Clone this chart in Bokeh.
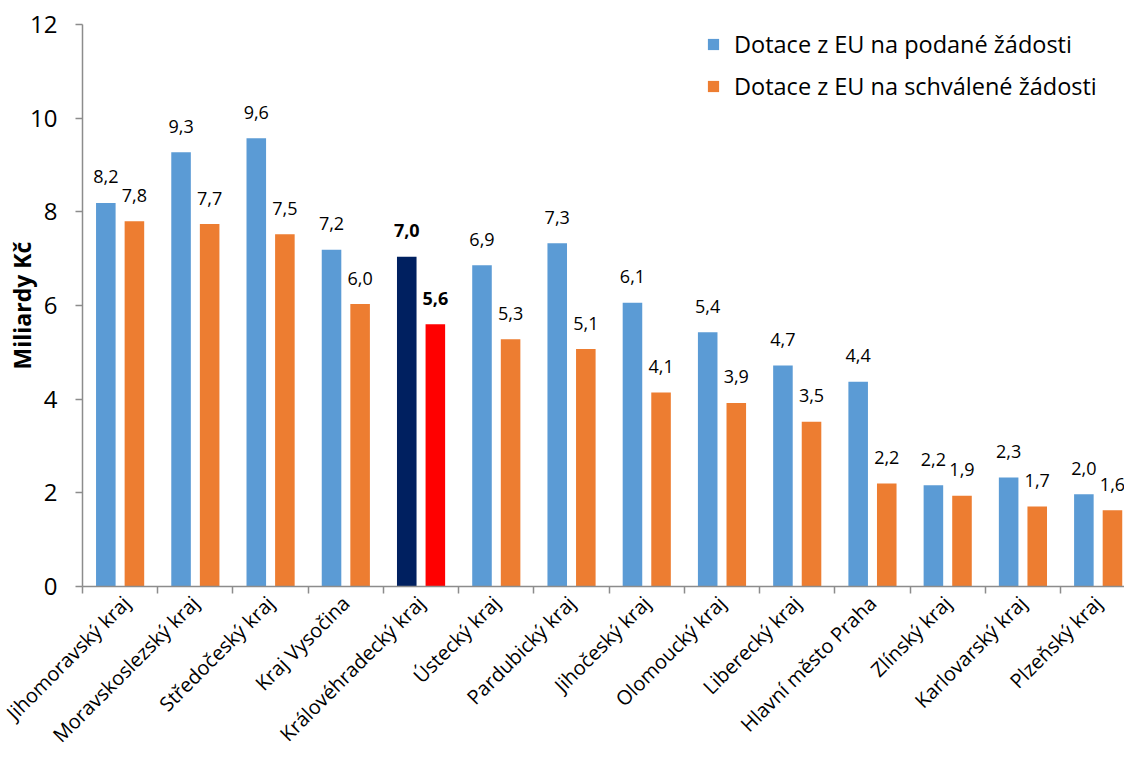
import math
from bokeh.plotting import figure
from bokeh.models import ColumnDataSource, FixedTicker, Range1d, Legend, LegendItem
from bokeh.core.properties import value
from bokeh.embed import file_html
from bokeh.resources import INLINE

categories = ["Jihomoravský kraj", "Moravskoslezský kraj", "Středočeský kraj", "Kraj Vysočina",
              "Královéhradecký kraj", "Ústecký kraj", "Pardubický kraj", "Jihočeský kraj",
              "Olomoucký kraj", "Liberecký kraj", "Hlavní město Praha", "Zlínský kraj",
              "Karlovarský kraj", "Plzeňský kraj"]
podane = [8.19, 9.27, 9.57, 7.19, 7.04, 6.86, 7.33, 6.06, 5.43, 4.72, 4.37, 2.16, 2.33, 1.97]
schvalene = [7.80, 7.74, 7.52, 6.03, 5.60, 5.28, 5.07, 4.14, 3.92, 3.52, 2.20, 1.94, 1.71, 1.63]
series_names = ["Dotace z EU na podané žádosti", "Dotace z EU na schválené žádosti"]
highlight = "Královéhradecký kraj"
y_ticks = [0, 2, 4, 6, 8, 10, 12]

FONT = "Open Sans"
BLUE, ORANGE = "#5B9BD5", "#ED7D31"
NAVY, RED = "#002060", "#FF0000"
OFF, BW = 0.19, 0.26

n = len(categories)
centers = [i + 0.5 for i in range(n)]
is_hl = [c == highlight for c in categories]

def fmt(v):
    return f"{v:.1f}".replace(".", ",")

src_a = ColumnDataSource(dict(
    x=[c - OFF for c in centers], top=podane,
    color=[NAVY if h else BLUE for h in is_hl],
    label=[fmt(v) for v in podane],
    style=["bold" if h else "normal" for h in is_hl]))
src_b = ColumnDataSource(dict(
    x=[c + OFF for c in centers], top=schvalene,
    color=[RED if h else ORANGE for h in is_hl],
    label=[fmt(v) for v in schvalene],
    style=["bold" if h else "normal" for h in is_hl]))

p = figure(width=1124, height=764, x_range=Range1d(0, 13.85), y_range=Range1d(0, 12),
           output_backend="svg", toolbar_location=None,
           min_border_left=82, min_border_right=0, min_border_top=24, min_border_bottom=178)
p.outline_line_color = None
p.xgrid.grid_line_color = None
p.ygrid.grid_line_color = None
p.background_fill_color = "white"

ra = p.vbar(x="x", top="top", width=BW, source=src_a, fill_color="color", line_color=None)
rb = p.vbar(x="x", top="top", width=BW, source=src_b, fill_color="color", line_color=None)

for s in (src_a, src_b):
    p.text(x="x", y="top", text="label", source=s, text_align="center", text_baseline="alphabetic",
           y_offset=-26, text_font=value(FONT), text_font_size="18px",
           text_font_style="style", text_color="black")

# axes
xa = p.xaxis[0]
xa.ticker = FixedTicker(ticks=centers, minor_ticks=list(range(n + 1)))
xa.major_label_overrides = {c: lab for c, lab in zip(centers, categories)}
xa.major_label_orientation = math.pi / 4
xa.major_tick_out = 0
xa.major_tick_in = 0
xa.minor_tick_out = 7
xa.minor_tick_in = 0
xa.minor_tick_line_color = "#8C8C8C"
xa.axis_line_color = "#8C8C8C"
xa.axis_line_width = 1.5
xa.minor_tick_line_width = 1.5
xa.major_label_text_font = FONT
xa.major_label_text_font_size = "20px"
xa.major_label_text_color = "black"
xa.major_label_standoff = 6

ya = p.yaxis[0]
ya.ticker = FixedTicker(ticks=y_ticks)
ya.minor_tick_line_color = None
ya.major_tick_out = 7
ya.major_tick_in = 0
ya.major_tick_line_color = "#8C8C8C"
ya.axis_line_color = "#8C8C8C"
ya.axis_line_width = 1.5
ya.major_tick_line_width = 1.5
ya.major_label_text_font = FONT
ya.major_label_text_font_size = "24px"
ya.major_label_text_color = "black"
ya.major_label_standoff = 18
ya.axis_label = "Miliardy Kč"
ya.axis_label_text_font = FONT
ya.axis_label_text_font_size = "23px"
ya.axis_label_text_font_style = "bold"
ya.axis_label_text_color = "black"
ya.axis_label_standoff = -11

legend = Legend(items=[LegendItem(label=series_names[0], renderers=[ra], index=0),
                       LegendItem(label=series_names[1], renderers=[rb], index=0)],
                location=(624, 484), orientation="vertical")
legend.border_line_color = None
legend.background_fill_alpha = 0
legend.padding = 0
legend.margin = 0
legend.spacing = 10
legend.glyph_width = 14
legend.glyph_height = 14
legend.label_height = 32
legend.label_standoff = 14
legend.label_text_font = FONT
legend.label_text_font_size = "23.5px"
legend.label_text_color = "black"
legend.label_text_baseline = "middle"
p.add_layout(legend, "center")

open("out.html", "w").write(file_html(p, INLINE))
